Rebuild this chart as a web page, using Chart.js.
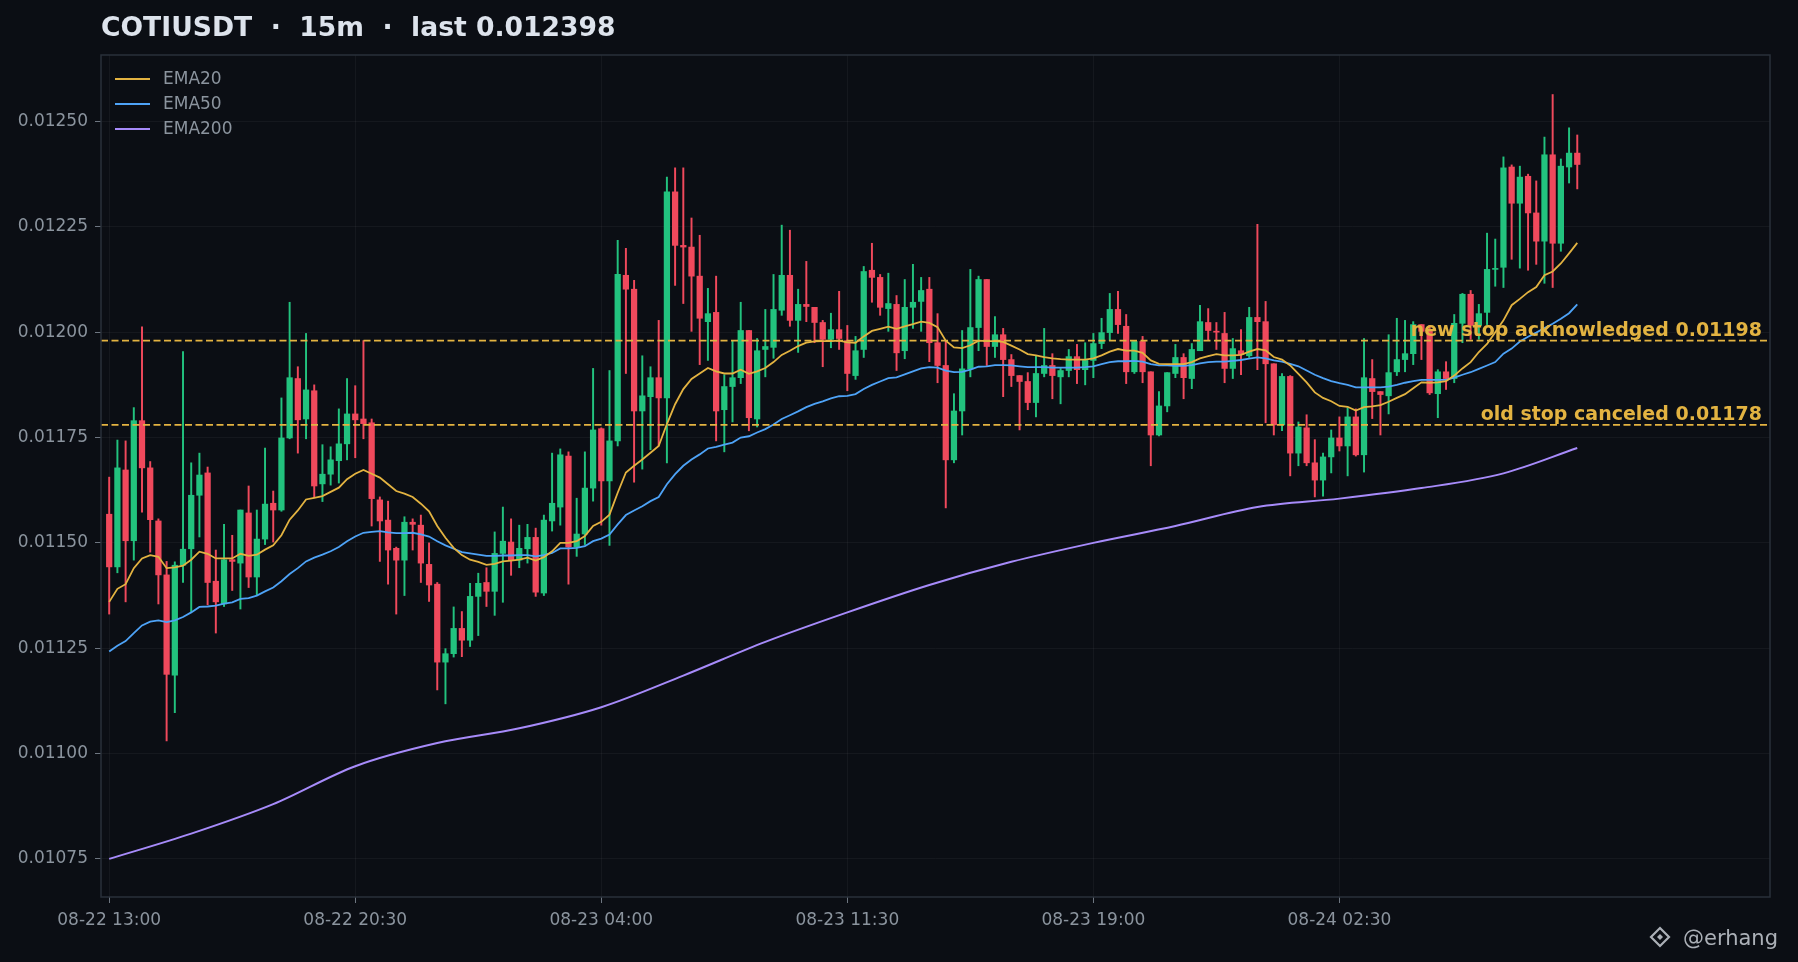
<!DOCTYPE html>
<html>
<head>
<meta charset="utf-8">
<title>COTIUSDT 15m</title>
<script src="https://cdn.jsdelivr.net/npm/chart.js@4.4.1/dist/chart.umd.min.js"></script>
<style>
  html, body { margin: 0; padding: 0; background: #0b0e14; }
  #wrap { width: 1798px; height: 962px; }
</style>
</head>
<body>
<div id="wrap"><canvas id="CandleChart" width="1798" height="962"></canvas></div>
<script>
(function () {
  "use strict";

  // Candles (15m), index 0 = 08-22 13:00
  const opens = [
    0.011568, 0.011443, 0.011673, 0.011505, 0.011790, 0.011678, 0.011552, 0.011424, 0.011186, 0.011447,
    0.011486, 0.011613, 0.011666, 0.011409, 0.011355, 0.011460, 0.011452, 0.011571, 0.011419, 0.011509,
    0.011594, 0.011578, 0.011749, 0.011890, 0.011794, 0.011861, 0.011640, 0.011663, 0.011695, 0.011735,
    0.011806, 0.011794, 0.011785, 0.011602, 0.011554, 0.011487, 0.011459, 0.011549, 0.011542, 0.011449,
    0.011402, 0.011217, 0.011237, 0.011297, 0.011269, 0.011373, 0.011406, 0.011385, 0.011475, 0.011502,
    0.011459, 0.011486, 0.011513, 0.011381, 0.011552, 0.011585, 0.011706, 0.011490, 0.011521, 0.011630,
    0.011771, 0.011647, 0.011742, 0.012135, 0.012102, 0.011813, 0.011847, 0.011892, 0.011844, 0.012333,
    0.012206, 0.012202, 0.012133, 0.012025, 0.012047, 0.011816, 0.011871, 0.011892, 0.012004, 0.011794,
    0.011959, 0.011964, 0.012052, 0.012135, 0.012028, 0.012066, 0.012059, 0.012023, 0.011983, 0.012006,
    0.011980, 0.011897, 0.011959, 0.012147, 0.012130, 0.012056, 0.012066, 0.011956, 0.012059, 0.012073,
    0.012102, 0.011975, 0.011921, 0.011697, 0.011813, 0.011913, 0.012011, 0.012125, 0.011966, 0.011994,
    0.011935, 0.011897, 0.011883, 0.011833, 0.011902, 0.011921, 0.011894, 0.011909, 0.011942, 0.011911,
    0.011933, 0.011973, 0.011999, 0.012054, 0.012014, 0.011906, 0.011978, 0.011906, 0.011756, 0.011825,
    0.011902, 0.011940, 0.011890, 0.011956, 0.012023, 0.012002, 0.011997, 0.011914, 0.011956, 0.011944,
    0.012035, 0.012025, 0.011925, 0.011780, 0.011895, 0.011713, 0.011773, 0.011690, 0.011649, 0.011704,
    0.011749, 0.011730, 0.011799, 0.011709, 0.011890, 0.011859, 0.011849, 0.011906, 0.011935, 0.011949,
    0.012018, 0.012002, 0.011854, 0.011906, 0.011890, 0.012021, 0.012090, 0.012016, 0.012047, 0.012149,
    0.012154, 0.012392, 0.012306, 0.012370, 0.012283, 0.012216, 0.012421, 0.012211, 0.012392, 0.012425
  ];
  const highs = [
    0.011656, 0.011744, 0.011742, 0.011821, 0.012013, 0.011693, 0.011557, 0.011456, 0.011455, 0.011954,
    0.011690, 0.011713, 0.011680, 0.011483, 0.011544, 0.011518, 0.011578, 0.011635, 0.011578, 0.011725,
    0.011623, 0.011844, 0.012071, 0.011918, 0.011997, 0.011875, 0.011733, 0.011728, 0.011818, 0.011890,
    0.011873, 0.011980, 0.011794, 0.011609, 0.011599, 0.011490, 0.011562, 0.011557, 0.011566, 0.011500,
    0.011406, 0.011249, 0.011348, 0.011337, 0.011404, 0.011428, 0.011441, 0.011526, 0.011585, 0.011557,
    0.011542, 0.011544, 0.011535, 0.011566, 0.011713, 0.011723, 0.011716, 0.011606, 0.011716, 0.011914,
    0.011773, 0.011909, 0.012218, 0.012199, 0.012123, 0.011944, 0.011918, 0.012028, 0.012368, 0.012390,
    0.012390, 0.012271, 0.012230, 0.012104, 0.012133, 0.011899, 0.011980, 0.012071, 0.012004, 0.011985,
    0.012054, 0.012137, 0.012254, 0.012242, 0.012102, 0.012168, 0.012059, 0.012028, 0.012045, 0.012097,
    0.012016, 0.011990, 0.012156, 0.012211, 0.012137, 0.012140, 0.012087, 0.012125, 0.012161, 0.012130,
    0.012130, 0.012044, 0.011980, 0.011854, 0.012004, 0.012149, 0.012133, 0.012125, 0.012037, 0.012009,
    0.011947, 0.011897, 0.011904, 0.011944, 0.012009, 0.011949, 0.011914, 0.011959, 0.011971, 0.011975,
    0.011997, 0.012033, 0.012092, 0.012097, 0.012042, 0.011978, 0.011990, 0.011906, 0.011859, 0.011904,
    0.011971, 0.011949, 0.011973, 0.012064, 0.012056, 0.012023, 0.012047, 0.011985, 0.012006, 0.012059,
    0.012256, 0.012073, 0.011925, 0.011902, 0.011897, 0.011787, 0.011804, 0.011745, 0.011713, 0.011768,
    0.011799, 0.011821, 0.011818, 0.011985, 0.011935, 0.011859, 0.011994, 0.012033, 0.012028, 0.012025,
    0.012018, 0.012016, 0.011911, 0.011930, 0.012042, 0.012092, 0.012099, 0.012066, 0.012235, 0.012221,
    0.012416, 0.012397, 0.012394, 0.012375, 0.012359, 0.012463, 0.012564, 0.012411, 0.012485, 0.012468
  ];
  const lows = [
    0.011331, 0.011429, 0.011360, 0.011459, 0.011573, 0.011478, 0.011355, 0.011030, 0.011097, 0.011406,
    0.011337, 0.011514, 0.011353, 0.011286, 0.011349, 0.011387, 0.011343, 0.011394, 0.011377, 0.011496,
    0.011502, 0.011575, 0.011747, 0.011713, 0.011747, 0.011607, 0.011598, 0.011637, 0.011642, 0.011697,
    0.011702, 0.011747, 0.011540, 0.011456, 0.011402, 0.011331, 0.011375, 0.011483, 0.011406, 0.011361,
    0.011151, 0.011118, 0.011229, 0.011230, 0.011254, 0.011280, 0.011349, 0.011328, 0.011359, 0.011423,
    0.011441, 0.011452, 0.011373, 0.011375, 0.011528, 0.011542, 0.011402, 0.011468, 0.011496, 0.011599,
    0.011542, 0.011494, 0.011730, 0.011902, 0.011644, 0.011675, 0.011721, 0.011730, 0.011690, 0.012111,
    0.012068, 0.012002, 0.011923, 0.011933, 0.011742, 0.011716, 0.011787, 0.011878, 0.011766, 0.011775,
    0.011894, 0.011938, 0.012040, 0.012014, 0.011952, 0.012025, 0.011975, 0.011918, 0.011963, 0.011959,
    0.011861, 0.011888, 0.011940, 0.012071, 0.012040, 0.012002, 0.011909, 0.011937, 0.012009, 0.012002,
    0.011930, 0.011880, 0.011583, 0.011690, 0.011756, 0.011894, 0.011956, 0.011921, 0.011940, 0.011847,
    0.011871, 0.011768, 0.011816, 0.011799, 0.011894, 0.011842, 0.011830, 0.011894, 0.011878, 0.011875,
    0.011892, 0.011961, 0.011980, 0.011997, 0.011878, 0.011902, 0.011880, 0.011683, 0.011754, 0.011811,
    0.011892, 0.011842, 0.011866, 0.011956, 0.011980, 0.011959, 0.011880, 0.011890, 0.011899, 0.011940,
    0.011911, 0.011785, 0.011756, 0.011766, 0.011659, 0.011683, 0.011683, 0.011609, 0.011611, 0.011666,
    0.011718, 0.011659, 0.011706, 0.011668, 0.011795, 0.011756, 0.011806, 0.011897, 0.011906, 0.011923,
    0.011935, 0.011852, 0.011797, 0.011864, 0.011880, 0.011975, 0.011983, 0.011983, 0.012018, 0.012109,
    0.012106, 0.012173, 0.012152, 0.012147, 0.012161, 0.012116, 0.012106, 0.012192, 0.012354, 0.012340
  ];
  const closes = [
    0.011443, 0.011678, 0.011505, 0.011790, 0.011678, 0.011555, 0.011424, 0.011188, 0.011447, 0.011485,
    0.011613, 0.011661, 0.011406, 0.011360, 0.011460, 0.011456, 0.011578, 0.011419, 0.011509, 0.011592,
    0.011578, 0.011749, 0.011892, 0.011792, 0.011863, 0.011635, 0.011663, 0.011697, 0.011735, 0.011806,
    0.011792, 0.011783, 0.011605, 0.011552, 0.011483, 0.011459, 0.011549, 0.011544, 0.011452, 0.011400,
    0.011217, 0.011237, 0.011297, 0.011269, 0.011373, 0.011404, 0.011385, 0.011475, 0.011504, 0.011459,
    0.011487, 0.011513, 0.011383, 0.011554, 0.011594, 0.011709, 0.011490, 0.011521, 0.011630, 0.011768,
    0.011647, 0.011742, 0.012137, 0.012102, 0.011813, 0.011849, 0.011892, 0.011844, 0.012333, 0.012206,
    0.012202, 0.012133, 0.012033, 0.012044, 0.011813, 0.011871, 0.011892, 0.012004, 0.011797, 0.011956,
    0.011966, 0.012054, 0.012135, 0.012028, 0.012066, 0.012061, 0.012023, 0.011983, 0.012006, 0.011985,
    0.011902, 0.011956, 0.012144, 0.012130, 0.012059, 0.012068, 0.011951, 0.012059, 0.012071, 0.012099,
    0.011975, 0.011921, 0.011697, 0.011813, 0.011913, 0.012011, 0.012125, 0.011966, 0.011994, 0.011935,
    0.011897, 0.011883, 0.011833, 0.011902, 0.011921, 0.011897, 0.011909, 0.011942, 0.011911, 0.011933,
    0.011973, 0.011999, 0.012054, 0.012018, 0.011906, 0.011978, 0.011906, 0.011756, 0.011825, 0.011904,
    0.011940, 0.011892, 0.011959, 0.012025, 0.012004, 0.012000, 0.011914, 0.011961, 0.011947, 0.012035,
    0.012025, 0.011925, 0.011780, 0.011895, 0.011713, 0.011775, 0.011690, 0.011649, 0.011704, 0.011749,
    0.011730, 0.011799, 0.011709, 0.011892, 0.011859, 0.011852, 0.011904, 0.011935, 0.011949, 0.012018,
    0.012002, 0.011856, 0.011906, 0.011890, 0.012021, 0.012090, 0.012016, 0.012044, 0.012149, 0.012151,
    0.012390, 0.012306, 0.012368, 0.012283, 0.012216, 0.012421, 0.012211, 0.012394, 0.012425, 0.012398
  ];

  // EMA lines (one value per candle)
  const ema20 = [
    0.011360, 0.011391, 0.011402, 0.011440, 0.011463, 0.011471, 0.011467, 0.011440, 0.011442, 0.011446,
    0.011460, 0.011479, 0.011474, 0.011463, 0.011463, 0.011463, 0.011474, 0.011469, 0.011472, 0.011484,
    0.011494, 0.011518, 0.011555, 0.011577, 0.011603, 0.011607, 0.011611, 0.011621, 0.011631, 0.011651,
    0.011664, 0.011673, 0.011664, 0.011655, 0.011639, 0.011623, 0.011617, 0.011609, 0.011593, 0.011575,
    0.011540, 0.011512, 0.011488, 0.011471, 0.011460, 0.011455, 0.011448, 0.011450, 0.011456, 0.011458,
    0.011460, 0.011465, 0.011458, 0.011466, 0.011480, 0.011500, 0.011500, 0.011504, 0.011516, 0.011540,
    0.011550, 0.011567, 0.011619, 0.011667, 0.011683, 0.011698, 0.011714, 0.011730, 0.011782, 0.011829,
    0.011865, 0.011889, 0.011902, 0.011915, 0.011907, 0.011902, 0.011902, 0.011911, 0.011901, 0.011907,
    0.011915, 0.011929, 0.011946, 0.011956, 0.011967, 0.011975, 0.011978, 0.011979, 0.011979, 0.011980,
    0.011976, 0.011975, 0.011990, 0.012003, 0.012008, 0.012013, 0.012008, 0.012014, 0.012019, 0.012025,
    0.012022, 0.012012, 0.011980, 0.011964, 0.011962, 0.011969, 0.011980, 0.011979, 0.011979, 0.011977,
    0.011968, 0.011959, 0.011948, 0.011945, 0.011941, 0.011938, 0.011936, 0.011935, 0.011935, 0.011935,
    0.011938, 0.011945, 0.011954, 0.011960, 0.011956, 0.011956, 0.011951, 0.011933, 0.011925, 0.011924,
    0.011924, 0.011924, 0.011929, 0.011938, 0.011943, 0.011948, 0.011945, 0.011945, 0.011946, 0.011954,
    0.011960, 0.011957, 0.011941, 0.011935, 0.011921, 0.011901, 0.011881, 0.011857, 0.011844, 0.011836,
    0.011825, 0.011823, 0.011814, 0.011822, 0.011824, 0.011827, 0.011835, 0.011844, 0.011853, 0.011867,
    0.011881, 0.011880, 0.011881, 0.011884, 0.011897, 0.011914, 0.011929, 0.011953, 0.011972, 0.012000,
    0.012028, 0.012064, 0.012079, 0.012095, 0.012107, 0.012135, 0.012144, 0.012163, 0.012187, 0.012212
  ];
  const ema50 = [
    0.011242, 0.011256, 0.011267, 0.011286, 0.011304, 0.011313, 0.011316, 0.011312, 0.011316, 0.011324,
    0.011335, 0.011348, 0.011349, 0.011351, 0.011356, 0.011359, 0.011367, 0.011369, 0.011375, 0.011385,
    0.011394, 0.011409, 0.011426, 0.011440, 0.011456, 0.011465, 0.011472, 0.011480, 0.011490, 0.011504,
    0.011515, 0.011524, 0.011526, 0.011528, 0.011525, 0.011523, 0.011523, 0.011524, 0.011520, 0.011515,
    0.011504, 0.011494, 0.011486, 0.011478, 0.011475, 0.011472, 0.011469, 0.011469, 0.011470, 0.011470,
    0.011471, 0.011471, 0.011468, 0.011471, 0.011476, 0.011487, 0.011487, 0.011488, 0.011492, 0.011504,
    0.011510, 0.011520, 0.011544, 0.011566, 0.011577, 0.011587, 0.011599, 0.011609, 0.011639, 0.011663,
    0.011683, 0.011698, 0.011710, 0.011724, 0.011728, 0.011733, 0.011738, 0.011750, 0.011753, 0.011762,
    0.011770, 0.011781, 0.011794, 0.011803, 0.011812, 0.011822, 0.011830, 0.011836, 0.011843, 0.011848,
    0.011849, 0.011853, 0.011865, 0.011875, 0.011883, 0.011891, 0.011893, 0.011900, 0.011907, 0.011914,
    0.011917, 0.011916, 0.011909, 0.011905, 0.011906, 0.011911, 0.011918, 0.011919, 0.011922, 0.011922,
    0.011921, 0.011919, 0.011917, 0.011917, 0.011917, 0.011916, 0.011916, 0.011916, 0.011916, 0.011917,
    0.011919, 0.011924, 0.011929, 0.011931, 0.011931, 0.011932, 0.011930, 0.011924, 0.011921, 0.011921,
    0.011920, 0.011920, 0.011922, 0.011926, 0.011929, 0.011930, 0.011930, 0.011932, 0.011934, 0.011937,
    0.011940, 0.011938, 0.011933, 0.011930, 0.011925, 0.011919, 0.011909, 0.011899, 0.011891, 0.011884,
    0.011879, 0.011875, 0.011869, 0.011869, 0.011869, 0.011869, 0.011871, 0.011875, 0.011880, 0.011884,
    0.011887, 0.011887, 0.011887, 0.011887, 0.011892, 0.011899, 0.011905, 0.011913, 0.011921, 0.011929,
    0.011949, 0.011961, 0.011978, 0.011989, 0.011999, 0.012010, 0.012020, 0.012032, 0.012045, 0.012066
  ];
  // EMA200 is a smooth curve: read every 10 candles
  const ema200At = [0, 10, 20, 30, 40, 50, 60, 70, 80, 90, 100, 110, 120, 130, 140, 150, 160, 170, 179];
  const ema200 = [
    0.010750, 0.010810, 0.010880, 0.010970, 0.011025, 0.011060, 0.011110, 0.011185, 0.011265, 0.011335,
    0.011400, 0.011455, 0.011500, 0.011540, 0.011585, 0.011605, 0.011630, 0.011665, 0.011725
  ];

  const newStop = 0.01198;
  const oldStop = 0.01178;

  const yTicks = [0.01075, 0.01100, 0.01125, 0.01150, 0.01175, 0.01200, 0.01225, 0.01250];
  const xTickIdx = [0, 30, 60, 90, 120, 150];
  const xTickLabels = ['08-22 13:00', '08-22 20:30', '08-23 04:00', '08-23 11:30', '08-23 19:00', '08-24 02:30'];

  // Colors
  const bg_color      = '#0b0e14';
  const up_color      = '#22c27e';
  const down_color    = '#f0495c';
  const ema20_color   = '#e3b341';
  const ema50_color   = '#4ea3f7';
  const ema200_color  = '#a78bfa';
  const stop_color    = '#e3b341';
  const text_gray     = '#8b949e';
  const spine_color   = '#2a303a';
  const grid_color    = 'rgba(255,255,255,0.045)';

  const FONT = '"DejaVu Sans", "Liberation Sans", sans-serif';

  const candleColor = opens.map(function (o, i) { return closes[i] >= o ? up_color : down_color; });

  // Extra drawing: background, spines, titles, legend, stop labels, watermark
  const decorations = {
    id: 'decorations',
    beforeDraw: function (chart) {
      const ctx = chart.ctx;
      ctx.save();
      ctx.fillStyle = bg_color;
      ctx.fillRect(0, 0, chart.width, chart.height);
      ctx.restore();
    },
    afterDraw: function (chart) {
      const ctx = chart.ctx;
      const area = chart.chartArea;
      const y = chart.scales.y;
      ctx.save();

      // spines
      ctx.strokeStyle = spine_color;
      ctx.lineWidth = 1.5;
      ctx.strokeRect(area.left, area.top, area.right - area.left, area.bottom - area.top);

      // title
      ctx.fillStyle = '#dde3ec';
      ctx.font = 'bold 26.6px ' + FONT;
      ctx.textAlign = 'left';
      ctx.textBaseline = 'alphabetic';
      ctx.fillText('COTIUSDT  \u00b7  15m  \u00b7  last 0.012398', 101, 36);

      // stop labels
      ctx.font = 'bold 19px ' + FONT;
      ctx.fillStyle = stop_color;
      ctx.textAlign = 'right';
      ctx.fillText('new stop acknowledged ' + newStop.toFixed(5), area.right - 8, y.getPixelForValue(newStop) - 5);
      ctx.fillText('old stop canceled ' + oldStop.toFixed(5), area.right - 8, y.getPixelForValue(oldStop) - 5);

      // legend
      const items = chart.data.datasets.filter(function (d) { return d.showInLegend; });
      ctx.font = '17px ' + FONT;
      ctx.textAlign = 'left';
      ctx.textBaseline = 'middle';
      items.forEach(function (d, k) {
        const ly = 79 + k * 25;
        ctx.strokeStyle = d.borderColor;
        ctx.lineWidth = 2;
        ctx.beginPath();
        ctx.moveTo(115, ly);
        ctx.lineTo(150, ly);
        ctx.stroke();
        ctx.fillStyle = text_gray;
        ctx.fillText(d.label, 163, ly + 1);
      });

      // watermark
      const cx = 1660, cy = 937;
      ctx.fillStyle = 'rgba(200,205,212,0.85)';
      ctx.strokeStyle = 'rgba(200,205,212,0.85)';
      ctx.lineWidth = 2.2;
      ctx.beginPath();
      ctx.moveTo(cx, cy - 9); ctx.lineTo(cx + 9, cy); ctx.lineTo(cx, cy + 9); ctx.lineTo(cx - 9, cy); ctx.closePath();
      ctx.stroke();
      ctx.beginPath();
      ctx.moveTo(cx, cy - 3); ctx.lineTo(cx + 3, cy); ctx.lineTo(cx, cy + 3); ctx.lineTo(cx - 3, cy); ctx.closePath();
      ctx.fill();
      ctx.font = '21px ' + FONT;
      ctx.textBaseline = 'alphabetic';
      ctx.fillText('@erhang', 1683, 945);

      ctx.restore();
    }
  };

  const candleChart = function () {
    Chart.defaults.font.family = FONT;
    Chart.defaults.color = text_gray;

    const el = document.getElementById('CandleChart');
    if (el == null) return;
    const ctx = el.getContext('2d');

    new Chart(ctx, {
      type: 'bar',
      data: {
        datasets: [
          {
            type: 'line',
            label: 'new stop',
            data: [{ x: -1, y: newStop }, { x: 202.5, y: newStop }],
            borderColor: stop_color,
            borderWidth: 1.8,
            borderDash: [7, 3.5],
            pointRadius: 0,
            order: 0
          },
          {
            type: 'line',
            label: 'old stop',
            data: [{ x: -1, y: oldStop }, { x: 202.5, y: oldStop }],
            borderColor: stop_color,
            borderWidth: 1.8,
            borderDash: [7, 3.5],
            pointRadius: 0,
            order: 0
          },
          {
            type: 'line',
            label: 'EMA20',
            showInLegend: true,
            data: ema20.map(function (v, i) { return { x: i, y: v }; }),
            borderColor: ema20_color,
            borderWidth: 1.8,
            pointRadius: 0,
            tension: 0,
            order: 1
          },
          {
            type: 'line',
            label: 'EMA50',
            showInLegend: true,
            data: ema50.map(function (v, i) { return { x: i, y: v }; }),
            borderColor: ema50_color,
            borderWidth: 1.8,
            pointRadius: 0,
            tension: 0,
            order: 2
          },
          {
            type: 'line',
            label: 'EMA200',
            showInLegend: true,
            data: ema200.map(function (v, k) { return { x: ema200At[k], y: v }; }),
            borderColor: ema200_color,
            borderWidth: 2,
            pointRadius: 0,
            cubicInterpolationMode: 'monotone',
            order: 3
          },
          {
            label: 'body',
            data: opens.map(function (o, i) { return { x: i, y: [o, closes[i]] }; }),
            backgroundColor: candleColor,
            borderWidth: 0,
            barThickness: 5.6,
            minBarLength: 1,
            grouped: false,
            order: 4
          },
          {
            label: 'wick',
            data: lows.map(function (l, i) { return { x: i, y: [l, highs[i]] }; }),
            backgroundColor: candleColor,
            borderWidth: 0,
            barThickness: 1.3,
            grouped: false,
            order: 5
          }
        ]
      },
      options: {
        responsive: false,
        devicePixelRatio: 1,
        animation: false,
        layout: { padding: { top: 55, right: 28, left: 0, bottom: 0 } },
        plugins: {
          legend: { display: false },
          tooltip: { enabled: false },
          title: { display: false }
        },
        scales: {
          x: {
            type: 'linear',
            min: -1,
            max: 202.5,
            offset: false,
            grid: { color: grid_color, offset: false, tickLength: 6, tickColor: '#6e7681' },
            border: { display: false },
            afterBuildTicks: function (scale) {
              scale.ticks = xTickIdx.map(function (v) { return { value: v }; });
            },
            afterFit: function (scale) { scale.height = 65; },
            ticks: {
              autoSkip: false,
              maxRotation: 0,
              padding: 7,
              font: { size: 17 },
              color: text_gray,
              callback: function (value) {
                const k = xTickIdx.indexOf(value);
                return k >= 0 ? xTickLabels[k] : '';
              }
            }
          },
          y: {
            min: 0.0106596,
            max: 0.0126578,
            grid: { color: grid_color, tickLength: 6, tickColor: '#6e7681' },
            border: { display: false },
            afterBuildTicks: function (scale) {
              scale.ticks = yTicks.map(function (v) { return { value: v }; });
            },
            afterFit: function (scale) { scale.width = 101; },
            ticks: {
              padding: 7,
              font: { size: 17 },
              color: text_gray,
              callback: function (value) { return Number(value).toFixed(5); }
            }
          }
        }
      },
      plugins: [decorations]
    });
  };

  candleChart();

})();
</script>
</body>
</html>
